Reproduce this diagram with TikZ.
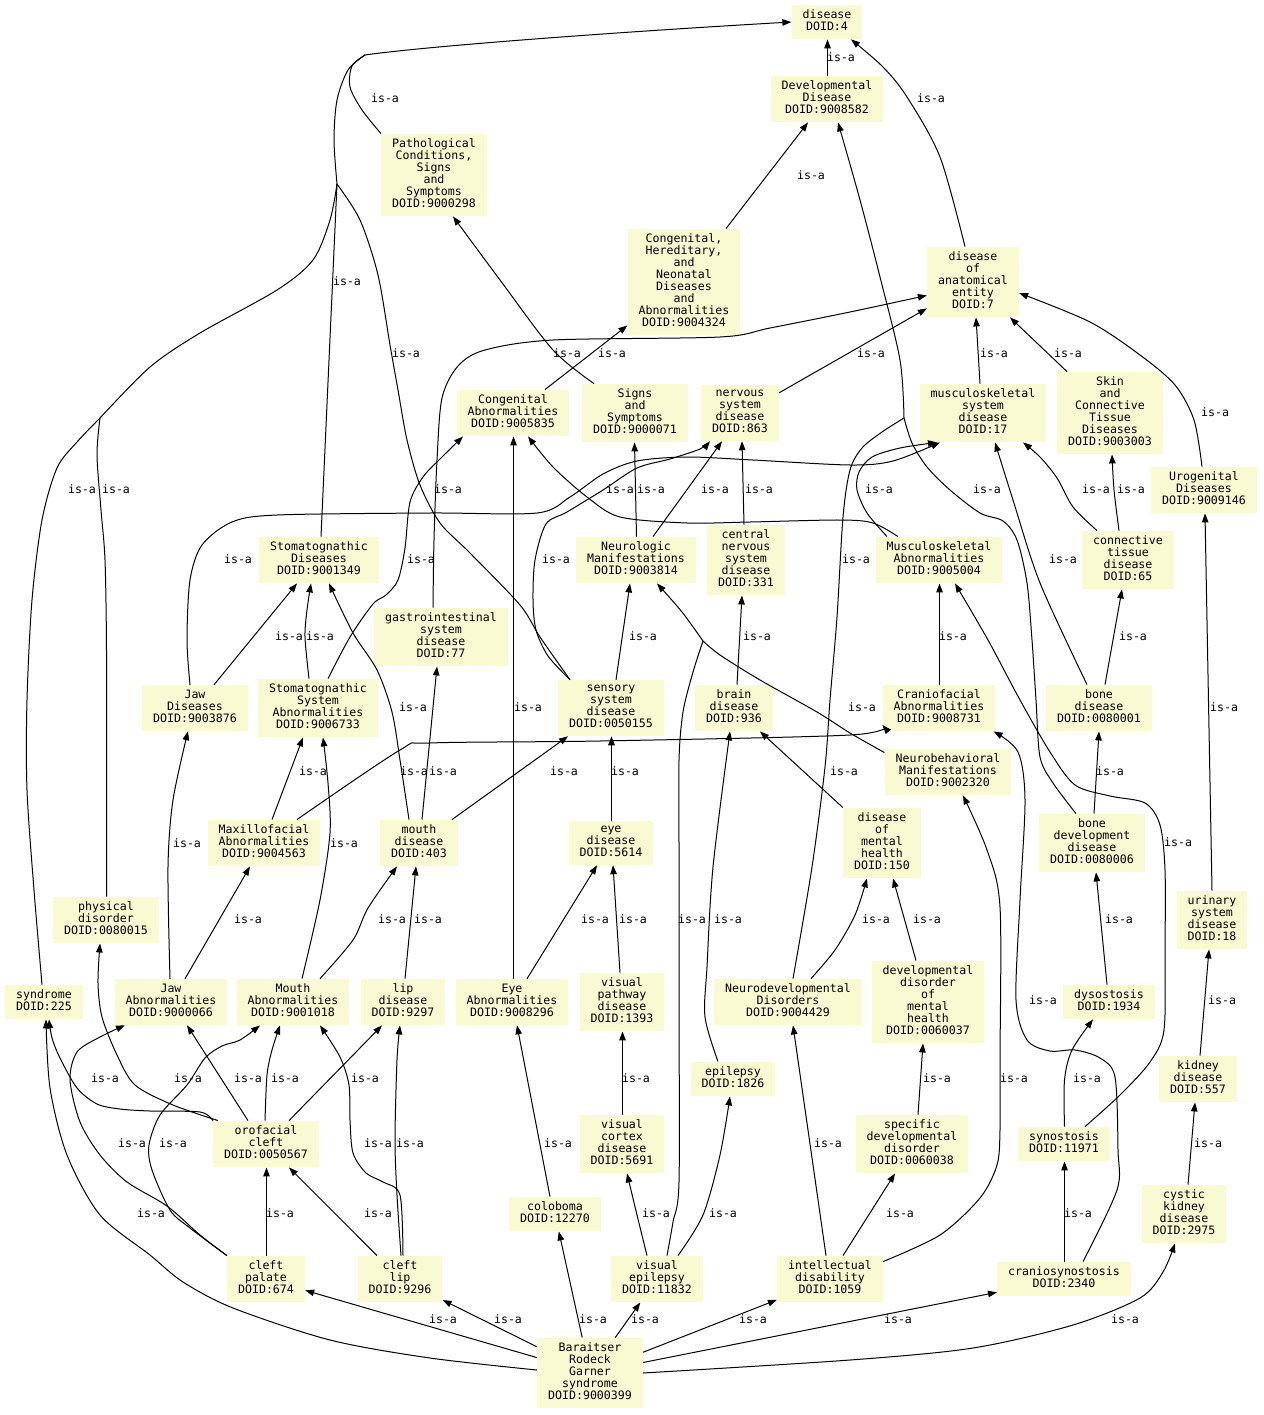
\documentclass[tikz,border=0pt]{standalone}
\usepackage{fontspec}
\usepackage{tikz}
\usetikzlibrary{arrows.meta}
\newfontfamily\dotfont{DejaVu Sans Mono}
\definecolor{termfill}{RGB}{250,250,210}

\begin{document}
\begin{tikzpicture}[
  x=1pt, y=-1pt,
  term/.style={fill=termfill, inner xsep=11pt, inner ysep=5pt, align=center,
    font=\dotfont\fontsize{11.6}{12}\selectfont,
    execute at begin node=\strut, execute at end node=\strut},
  isa/.style={-{Triangle[length=9pt,width=6.5pt]}, line width=1pt},
  trunk/.style={line width=1pt},
  lab/.style={inner sep=0pt, font=\dotfont\fontsize{11.6}{12}\selectfont}
]
\fill[white] (0,0) rectangle (1263,1415);
\useasboundingbox (0,0) rectangle (1263,1415);

\node[term] (d4) at (827,22) {disease\\DOID:4};
\node[term] (dev) at (827,99) {Developmental\\Disease\\DOID:9008582};
\node[term] (patho) at (434,175) {Pathological\\Conditions,\\Signs\\and\\Symptoms\\DOID:9000298};
\node[term] (chn) at (684,282) {Congenital,\\Hereditary,\\and\\Neonatal\\Diseases\\and\\Abnormalities\\DOID:9004324};
\node[term] (anat) at (973,282) {disease\\of\\anatomical\\entity\\DOID:7};
\node[term] (cong) at (513,413) {Congenital\\Abnormalities\\DOID:9005835};
\node[term] (sign) at (635,413) {Signs\\and\\Symptoms\\DOID:9000071};
\node[term] (nerv) at (740,413) {nervous\\system\\disease\\DOID:863};
\node[term] (musc) at (983,413) {musculoskeletal\\system\\disease\\DOID:17};
\node[term] (skin) at (1110,413) {Skin\\and\\Connective\\Tissue\\Diseases\\DOID:9003003};
\node[term] (uro) at (1204,490) {Urogenital\\Diseases\\DOID:9009146};
\node[term] (stomd) at (319,560) {Stomatognathic\\Diseases\\DOID:9001349};
\node[term] (neuro) at (636,560) {Neurologic\\Manifestations\\DOID:9003814};
\node[term] (cns) at (746,560) {central\\nervous\\system\\disease\\DOID:331};
\node[term] (muscab) at (939,560) {Musculoskeletal\\Abnormalities\\DOID:9005004};
\node[term] (ctd) at (1128,560) {connective\\tissue\\disease\\DOID:65};
\node[term] (gi) at (441,637) {gastrointestinal\\system\\disease\\DOID:77};
\node[term] (jawd) at (195,708) {Jaw\\Diseases\\DOID:9003876};
\node[term] (stomab) at (318,708) {Stomatognathic\\System\\Abnormalities\\DOID:9006733};
\node[term] (sens) at (611,708) {sensory\\system\\disease\\DOID:0050155};
\node[term] (brain) at (734,708) {brain\\disease\\DOID:936};
\node[term] (cranio) at (939,708) {Craniofacial\\Abnormalities\\DOID:9008731};
\node[term] (boned) at (1099,708) {bone\\disease\\DOID:0080001};
\node[term] (nbeh) at (948,772) {Neurobehavioral\\Manifestations\\DOID:9002320};
\node[term] (maxf) at (264,843) {Maxillofacial\\Abnormalities\\DOID:9004563};
\node[term] (mouth) at (419,843) {mouth\\disease\\DOID:403};
\node[term] (eye) at (611,843) {eye\\disease\\DOID:5614};
\node[term] (mental) at (882,843) {disease\\of\\mental\\health\\DOID:150};
\node[term] (bonedev) at (1092,843) {bone\\development\\disease\\DOID:0080006};
\node[term] (phys) at (106,920) {physical\\disorder\\DOID:0080015};
\node[term] (urin) at (1212,920) {urinary\\system\\disease\\DOID:18};
\node[term] (synd) at (44,1002) {syndrome\\DOID:225};
\node[term] (jawab) at (171,1002) {Jaw\\Abnormalities\\DOID:9000066};
\node[term] (mouthab) at (293,1002) {Mouth\\Abnormalities\\DOID:9001018};
\node[term] (lip) at (403,1002) {lip\\disease\\DOID:9297};
\node[term] (eyeab) at (512,1002) {Eye\\Abnormalities\\DOID:9008296};
\node[term] (vpath) at (622,1002) {visual\\pathway\\disease\\DOID:1393};
\node[term] (ndev) at (788,1002) {Neurodevelopmental\\Disorders\\DOID:9004429};
\node[term] (ddmh) at (928,1002) {developmental\\disorder\\of\\mental\\health\\DOID:0060037};
\node[term] (dyso) at (1109,1002) {dysostosis\\DOID:1934};
\node[term] (epi) at (733,1079) {epilepsy\\DOID:1826};
\node[term] (kid) at (1198,1079) {kidney\\disease\\DOID:557};
\node[term] (ofc) at (266,1144) {orofacial\\cleft\\DOID:0050567};
\node[term] (vcort) at (622,1144) {visual\\cortex\\disease\\DOID:5691};
\node[term] (sdd) at (912,1144) {specific\\developmental\\disorder\\DOID:0060038};
\node[term] (syno) at (1064,1144) {synostosis\\DOID:11971};
\node[term] (ckd) at (1184,1214) {cystic\\kidney\\disease\\DOID:2975};
\node[term] (colo) at (555,1214) {coloboma\\DOID:12270};
\node[term] (cpal) at (266,1279) {cleft\\palate\\DOID:674};
\node[term] (clip) at (400,1279) {cleft\\lip\\DOID:9296};
\node[term] (vepi) at (657,1279) {visual\\epilepsy\\DOID:11832};
\node[term] (intel) at (830,1279) {intellectual\\disability\\DOID:1059};
\node[term] (cranios) at (1064,1279) {craniosynostosis\\DOID:2340};
\node[term] (brg) at (590,1373) {Baraitser\\Rodeck\\Garner\\syndrome\\DOID:9000399};

% merge points of concentrated edges
\coordinate (jtop) at (365,55);
\coordinate (jmid) at (337,184);
\coordinate (jleft) at (100,418);
\coordinate (jd) at (904,418);
\coordinate (jn) at (703,641);

% into disease
\draw[isa] (jtop) .. controls (420,47) and (600,33) .. (d4.west);
\draw[trunk] plot[smooth] coordinates {(patho.north west) (362,110) (350,87) (352,66) (jtop)} node[lab] at (385,98) {is-a};
\draw[trunk] plot[smooth] coordinates {(jmid) (334,140) (337,100) (348,70) (jtop)};
\draw[trunk] ([xshift=2pt]stomd.north) -- (jmid) node[lab] at (347,281) {is-a};
\draw[trunk] plot[smooth] coordinates {([xshift=-41pt]sens.north) (540,637) (520,605) (470,553) (440,523) (420,485) (407,440) (398,390) (390,345) (378,275) (360,220) (jmid)} node[lab] at (406,353) {is-a};
\draw[trunk] plot[smooth] coordinates {(jleft) (150,367) (200,333) (277,290) (313,260) (330,220) (jmid)};
\draw[trunk] plot[smooth] coordinates {([xshift=-2pt]synd.north) (34,890) (27,790) (27,700) (32,600) (42,520) (57,468) (77,442) (jleft)} node[lab] at (82,489) {is-a};
\draw[trunk] plot[smooth] coordinates {([xshift=0.5pt]phys.north) (106.5,800) (106.5,650) (105,560) (101,510) (97,455) (jleft)} node[lab] at (116,489) {is-a};
\draw[isa] ([xshift=0.5pt]dev.north) -- ([xshift=0.5pt]d4.south) node[lab] at (841,57) {is-a};
\draw[isa] plot[smooth] coordinates {([xshift=-8pt]anat.north) (940,157) (907,97) (883,67) ([xshift=24pt]d4.south)} node[lab] at (931,98) {is-a};

% upper levels
\draw[isa] ([xshift=42pt]chn.north) -- ([xshift=-19pt]dev.south) node[lab] at (811,175) {is-a};
\draw[trunk] plot[smooth] coordinates {([xshift=-16pt]bonedev.north) (1053,783) (1040,757) (1036,700) (1032,640) (1027,583) (1017,540) (1003,521) (980,513) (950,490) (927,467) (912,443) (jd)} node[lab] at (987,489) {is-a};
\draw[trunk] plot[smooth] coordinates {([xshift=5pt]ndev.north) (812,867) (825,767) (830,700) (837,617) (843,517) (850,470) (862,448) (882,432) (jd)} node[lab] at (856,559) {is-a};
\draw[isa] plot[smooth] coordinates {(jd) (900,360) (880,277) (860,200) ([xshift=11pt]dev.south)};
\draw[isa] ([xshift=32pt]cong.north) -- ([yshift=10pt]chn.south west) node[lab] at (612,353) {is-a};
\draw[isa] plot[smooth] coordinates {([xshift=-41pt]sign.north) (553,350) (500,280) ([xshift=19pt]patho.south)} node[lab] at (567,353) {is-a};
\draw[isa] ([yshift=-8pt]nerv.north east) -- ([yshift=9pt]anat.south west) node[lab] at (871,353) {is-a};
\draw[isa] plot[smooth] coordinates {([xshift=-8pt]gi.north) (434,540) (437,460) (442,398) (458,366) (485,350) (553,340) (720,337) (770,328) (850,312) ([yshift=22pt]anat.south west)} node[lab] at (448,489) {is-a};
\draw[isa] ([xshift=-3pt]musc.north) -- ([xshift=3pt]anat.south) node[lab] at (994,353) {is-a};
\draw[isa] ([xshift=-43pt]skin.north) -- ([xshift=37pt]anat.south) node[lab] at (1068,353) {is-a};
\draw[isa] plot[smooth] coordinates {([xshift=-2pt]uro.north) (1194,420) (1175,385) (1140,355) (1090,322) ([yshift=-11pt]anat.east)} node[lab] at (1215,412) {is-a};

% middle levels
\draw[isa] ([xshift=0.5pt]neuro.north) -- ([xshift=-0.5pt]sign.south) node[lab] at (651,489) {is-a};
\draw[isa] ([xshift=17pt]neuro.north) -- ([xshift=-18pt]nerv.south) node[lab] at (715,489) {is-a};
\draw[isa] ([xshift=-2pt]cns.north) -- ([xshift=2pt]nerv.south) node[lab] at (759,489) {is-a};
\draw[isa] plot[smooth] coordinates {([xshift=-41pt]muscab.north) (873,523) (840,520) (750,522) (687,523) (620,517) (587,497) (553,467) ([xshift=15pt]cong.south)} node[lab] at (620,489) {is-a};
\draw[isa] plot[smooth] coordinates {([xshift=-52pt]muscab.north) (867,513) (857,490) (859,472) (872,457) (900,448) ([xshift=-46pt]musc.south)} node[lab] at (879,489) {is-a};
\draw[isa] plot[smooth] coordinates {([xshift=-5pt]jawd.north) (187,640) (190,580) (202,545) (232,522) (277,515) (430,513) (537,513) (570,497) (603,474) (637,461) (687,457) (753,460) (850,465) (893,461) ([xshift=-43pt]musc.south)} node[lab] at (238,559) {is-a};
\draw[isa] plot[smooth] coordinates {([xshift=-41pt]sens.north) (548,656) (536,630) (533,600) (535,560) (546,524) (567,512) (603,490) (637,468) (670,459) (700,449) ([xshift=-30pt]nerv.south)} node[lab] at (556,559) {is-a};
\draw[isa] plot[smooth] coordinates {([xshift=-31pt]ctd.north) (1073,507) (1057,478) (1040,457) ([xshift=40pt]musc.south)} node[lab] at (1096,489) {is-a};
\draw[isa] plot[smooth] coordinates {([xshift=-9pt]ctd.north) (1114,490) ([xshift=2pt]skin.south)} node[lab] at (1131,489) {is-a};
\draw[isa] plot[smooth] coordinates {([xshift=-12pt]boned.north) (1040,583) (1013,500) ([xshift=12pt]musc.south)} node[lab] at (1063,559) {is-a};
\draw[isa] ([xshift=19pt]jawd.north) -- ([xshift=-22pt]stomd.south) node[lab] at (289,636) {is-a};
\draw[isa] plot[smooth] coordinates {([xshift=-9pt]stomab.north) (305,637) (307,610) ([xshift=-8pt]stomd.south)} node[lab] at (320,636) {is-a};
\draw[isa] plot[smooth] coordinates {([xshift=-10pt]mouth.north) (400,760) (392,712) (377,670) (353,633) ([xshift=10pt]stomd.south)} node[lab] at (413,707) {is-a};
\draw[isa] plot[smooth] coordinates {([xshift=10pt]stomab.north) (350,637) (373,604) (386,595) (398,580) (405,548) (410,502) (423,477) (440,459) ([xshift=-50pt]cong.south)} node[lab] at (421,559) {is-a};
\draw[isa] ([xshift=1.5pt]eyeab.north) -- ([xshift=0.5pt]cong.south) node[lab] at (528,707) {is-a};
\draw[isa] ([xshift=5pt]sens.north) -- ([xshift=-6pt]neuro.south) node[lab] at (643,636) {is-a};
\draw[trunk] plot[smooth] coordinates {([yshift=-4pt]nbeh.north west) (850,733) (817,712) (760,680) (720,655) (jn)} node[lab] at (862,707) {is-a};
\draw[trunk] plot[smooth] coordinates {([xshift=10pt]vepi.north) (673,1222) (679,1182) (679,1000) (679,850) (679,760) (683,712) (693,672) (jn)} node[lab] at (692,919) {is-a};
\draw[isa] plot[smooth] coordinates {(jn) (682,612) ([xshift=21pt]neuro.south)};
\draw[isa] ([xshift=3pt]brain.north) -- ([xshift=-4pt]cns.south) node[lab] at (757,636) {is-a};
\draw[isa] ([xshift=0.5pt]cranio.north) -- ([xshift=0.5pt]muscab.south) node[lab] at (953,636) {is-a};
\draw[isa] plot[smooth] coordinates {([xshift=21pt]syno.north) (1120,1095) (1150,1062) (1164,1030) (1165,950) (1165,870) (1160,825) (1145,803) (1110,796) (1075,785) (1050,752) (1020,700) (988,640) ([xshift=16pt]muscab.south)} node[lab] at (1178,842) {is-a};
\draw[isa] ([xshift=6pt]boned.north) -- ([xshift=-6pt]ctd.south) node[lab] at (1133,636) {is-a};
\draw[isa] ([xshift=33pt]mouth.north) -- ([xshift=-43pt]sens.south) node[lab] at (564,771) {is-a};
\draw[isa] ([xshift=0.5pt]eye.north) -- ([xshift=0.5pt]sens.south) node[lab] at (625,771) {is-a};
\draw[isa] (mental.north west) -- ([xshift=26pt]brain.south) node[lab] at (844,771) {is-a};
\draw[isa] plot[smooth] coordinates {([xshift=-15pt]epi.north) (705,1017) (707,967) (713,867) ([xshift=-4pt]brain.south)} node[lab] at (728,919) {is-a};
\draw[isa] plot[smooth] coordinates {([xshift=33pt]maxf.north) (400,750) (430,743) (600,741) (850,735) ([yshift=-17pt]cranio.west)} node[lab] at (414,771) {is-a};
\draw[isa] plot[smooth] coordinates {([xshift=19pt]cranios.north) (1117,1190) (1118,1150) (1115,1077) (1100,1058) (1075,1050) (1050,1051) (1027,1040) (1016,1000) (1020,900) (1025,800) (1018,752) ([xshift=-2pt]cranio.south east)} node[lab] at (1043,1000) {is-a};
\draw[isa] plot[smooth] coordinates {([yshift=-6pt]intel.north east) (940,1235) (980,1198) (997,1165) (1000,1130) (1000,1060) (1000,907) (987,850) ([xshift=15pt]nbeh.south)} node[lab] at (1014,1078) {is-a};
\draw[isa] ([xshift=2pt]bonedev.north) -- (boned.south) node[lab] at (1110,771) {is-a};
\draw[isa] ([xshift=8pt]maxf.north) -- ([xshift=-15pt]stomab.south) node[lab] at (313,771) {is-a};
\draw[isa] ([xshift=3pt]mouth.north) -- ([xshift=-4pt]gi.south) node[lab] at (443,771) {is-a};

% lower levels
\draw[isa] plot[smooth] coordinates {([xshift=-1pt]jawab.north) (168,867) (173,800) ([xshift=-7pt]jawd.south)} node[lab] at (187,843) {is-a};
\draw[isa] plot[smooth] coordinates {([xshift=9pt]mouthab.north) (320,900) (330,833) (328,783) ([xshift=5pt]stomab.south)} node[lab] at (344,843) {is-a};
\draw[isa] ([xshift=14pt]jawab.north) -- ([xshift=-14pt]maxf.south) node[lab] at (248,919) {is-a};
\draw[isa] plot[smooth] coordinates {([xshift=27pt]mouthab.north) (353,940) (368,908) ([xshift=-22pt]mouth.south)} node[lab] at (392,919) {is-a};
\draw[isa] ([xshift=2pt]lip.north) -- ([xshift=-3pt]mouth.south) node[lab] at (428,919) {is-a};
\draw[isa] ([xshift=15pt]eyeab.north) -- ([xshift=-14pt]eye.south) node[lab] at (595,919) {is-a};
\draw[isa] ([xshift=-2pt]vpath.north) -- ([xshift=2pt]eye.south) node[lab] at (633,919) {is-a};
\draw[isa] plot[smooth] coordinates {([xshift=23pt]ndev.north) (835,950) (855,915) ([xshift=-15pt]mental.south)} node[lab] at (876,919) {is-a};
\draw[isa] ([xshift=-12pt]ddmh.north) -- ([xshift=11pt]mental.south) node[lab] at (927,919) {is-a};
\draw[isa] ([xshift=-2pt]dyso.north) -- ([xshift=4pt]bonedev.south) node[lab] at (1119,919) {is-a};
\draw[isa] (urin.north) -- ([xshift=1pt]uro.south) node[lab] at (1224,707) {is-a};
\draw[isa] ([xshift=2pt]kid.north) -- ([xshift=-3pt]urin.south) node[lab] at (1222,1000) {is-a};
\draw[isa] ([xshift=4pt]ckd.north) -- ([xshift=-3pt]kid.south) node[lab] at (1208,1143) {is-a};
\draw[isa] plot[smooth] coordinates {(ofc.north west) (200,1112) (150,1111) (120,1109) (97,1104) (77,1088) (60,1058) (52,1038) ([xshift=5pt]synd.south)} node[lab] at (105,1078) {is-a};
\draw[isa] plot[smooth] coordinates {([xshift=-48pt]ofc.north) (173,1105) (135,1085) (117,1055) (102,1017) (98,983) ([xshift=-6pt]phys.south)} node[lab] at (188,1078) {is-a};
\draw[isa] ([xshift=-18pt]ofc.north) -- ([xshift=16pt]jawab.south) node[lab] at (248,1078) {is-a};
\draw[isa] plot[smooth] coordinates {([xshift=-1pt]ofc.north) (267,1075) (272,1050) ([xshift=-13pt]mouthab.south)} node[lab] at (285,1078) {is-a};
\draw[isa] ([xshift=23pt]ofc.north) -- ([xshift=-21pt]lip.south) node[lab] at (365,1078) {is-a};
\draw[isa] plot[smooth] coordinates {(cpal.north west) (200,1235) (167,1206) (127,1182) (100,1155) (80,1122) (70,1080) (77,1052) (100,1037) ([xshift=-46pt]jawab.south)} node[lab] at (132,1143) {is-a};
\draw[isa] plot[smooth] coordinates {(cpal.north west) (190,1228) (170,1210) (152,1170) (149,1145) (160,1115) (187,1085) (205,1058) (222,1046) (240,1040) ([xshift=-33pt]mouthab.south)} node[lab] at (173,1143) {is-a};
\draw[isa] plot[smooth] coordinates {([xshift=3pt]clip.north) (400,1195) (383,1182) (366,1173) (353,1153) (350,1120) (349,1085) (340,1057) ([xshift=27pt]mouthab.south)} node[lab] at (378,1143) {is-a};
\draw[isa] plot[smooth] coordinates {([xshift=1pt]clip.north) (397,1195) (395,1140) (397,1060) ([xshift=-3pt]lip.south)} node[lab] at (410,1143) {is-a};
\draw[isa] ([xshift=-5pt]colo.north) -- ([xshift=5pt]eyeab.south) node[lab] at (558,1143) {is-a};
\draw[isa] ([xshift=0.5pt]vcort.north) -- ([xshift=0.5pt]vpath.south) node[lab] at (636,1078) {is-a};
\draw[isa] ([xshift=6pt]sdd.north) -- ([xshift=-5pt]ddmh.south) node[lab] at (937,1078) {is-a};
\draw[isa] plot[smooth] coordinates {([xshift=0.5pt]syno.north) (1064.5,1080) (1072,1050) ([xshift=-16pt]dyso.south)} node[lab] at (1087,1078) {is-a};
\draw[isa] ([xshift=-4pt]intel.north) -- ([xshift=5pt]ndev.south) node[lab] at (828,1143) {is-a};
\draw[isa] ([xshift=0.5pt]cpal.north) -- ([xshift=0.5pt]ofc.south) node[lab] at (280,1213) {is-a};
\draw[isa] ([xshift=-23pt]clip.north) -- ([xshift=23pt]ofc.south) node[lab] at (378,1213) {is-a};
\draw[isa] plot[smooth] coordinates {([xshift=-10pt]vepi.north) (637,1215) ([xshift=5pt]vcort.south)} node[lab] at (656,1213) {is-a};
\draw[isa] plot[smooth] coordinates {([xshift=21pt]vepi.north) (703,1215) (720,1155) ([xshift=-3pt]epi.south)} node[lab] at (723,1213) {is-a};
\draw[isa] ([xshift=13pt]intel.north) -- ([xshift=-17pt]sdd.south) node[lab] at (900,1213) {is-a};
\draw[isa] ([xshift=0.5pt]cranios.north) -- ([xshift=0.5pt]syno.south) node[lab] at (1078,1213) {is-a};

% from the syndrome itself
\draw[isa] plot[smooth] coordinates {([yshift=3pt]brg.west) (430,1358) (330,1340) (233,1308) (183,1282) (150,1255) (100,1215) (67,1155) (50,1088) ([xshift=2pt]synd.south)} node[lab] at (151,1213) {is-a};
\draw[isa] (brg) -- (cpal) node[lab] at (443,1319) {is-a};
\draw[isa] (brg) -- (clip) node[lab] at (508,1319) {is-a};
\draw[isa] (brg) -- (colo) node[lab] at (593,1319) {is-a};
\draw[isa] (brg) -- (vepi) node[lab] at (645,1319) {is-a};
\draw[isa] (brg) -- (intel) node[lab] at (753,1319) {is-a};
\draw[isa] (brg) -- (cranios) node[lab] at (898,1319) {is-a};
\draw[isa] plot[smooth] coordinates {(brg.east) (850,1360) (973,1348) (1073,1325) (1140,1298) (1163,1272) ([xshift=-9pt]ckd.south)} node[lab] at (1125,1319) {is-a};
\end{tikzpicture}
\end{document}
